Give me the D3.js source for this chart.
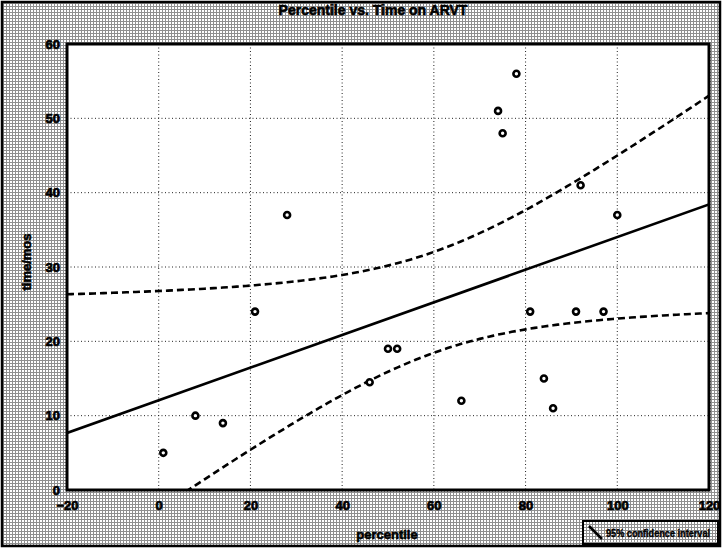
<!DOCTYPE html>
<html>
<head>
<meta charset="utf-8">
<script src="https://cdn.jsdelivr.net/npm/d3@7"></script>
<style>
  html, body { margin: 0; padding: 0; background: #fff; }
  svg { display: block; }
  text { font-family: "Liberation Sans", Arial, sans-serif; font-weight: bold; fill: #000; }
</style>
</head>
<body>
<svg id="chart" width="722" height="548"></svg>
<script>
// Percentile of each patient and time on ARVT
const percentile = [1, 8, 14, 21, 28, 46, 50, 52, 66, 74, 75, 78, 81, 84, 86, 91, 92, 97, 100];
const timeOnArvt = [5, 10, 9, 24, 37, 14.5, 19, 19, 12, 51, 48, 56, 24, 15, 11, 24, 41, 24, 37];

const xTicks = [-20, 0, 20, 40, 60, 80, 100, 120];
const yTicks = [0, 10, 20, 30, 40, 50, 60];
const xDomain = [-20, 120];
const yDomain = [0, 60];

const titleText = "Percentile vs. Time on ARVT";
const xLabel = "percentile";
const yLabel = "time/mos";
const legendText = "95% confidence interval";

// two-sided 95% Student t quantile for n - 2 = 17 degrees of freedom
const T_975 = 2.1098;

const W = 722, H = 548;
const plot = { left: 67, right: 709, top: 44, bottom: 490 };

const svg = d3.select("#chart");
const defs = svg.append("defs");

// halftone-like grey mesh used for the figure background
const pat = defs.append("pattern")
  .attr("id", "mesh").attr("width", 3).attr("height", 3)
  .attr("patternUnits", "userSpaceOnUse");
pat.append("rect").attr("width", 3).attr("height", 3).attr("fill", "#fff");
pat.append("rect").attr("width", 3).attr("height", 1).attr("fill", "#8f8f8f");
pat.append("rect").attr("width", 1).attr("height", 3).attr("fill", "#8f8f8f");

defs.append("clipPath").attr("id", "plotClip")
  .append("rect")
  .attr("x", plot.left).attr("y", plot.top)
  .attr("width", plot.right - plot.left).attr("height", plot.bottom - plot.top);

// figure background and frame
svg.append("rect").attr("x", 2).attr("y", 2).attr("width", W - 4).attr("height", H - 4)
  .attr("fill", "url(#mesh)").attr("stroke", "#000").attr("stroke-width", 2.5);

const x = d3.scaleLinear().domain(xDomain).range([plot.left, plot.right]);
const y = d3.scaleLinear().domain(yDomain).range([plot.bottom, plot.top]);

// plot area
svg.append("rect")
  .attr("x", plot.left).attr("y", plot.top)
  .attr("width", plot.right - plot.left).attr("height", plot.bottom - plot.top)
  .attr("fill", "#fff");

// dotted grid
const grid = svg.append("g").attr("stroke", "#222").attr("stroke-width", 1)
  .attr("stroke-dasharray", "1,2.5");
grid.selectAll("line.v").data(xTicks.slice(1, -1)).join("line")
  .attr("class", "v")
  .attr("x1", d => x(d)).attr("x2", d => x(d))
  .attr("y1", plot.top).attr("y2", plot.bottom);
grid.selectAll("line.h").data(yTicks.slice(1, -1)).join("line")
  .attr("class", "h")
  .attr("x1", plot.left).attr("x2", plot.right)
  .attr("y1", d => y(d)).attr("y2", d => y(d));

// least-squares fit and 95% confidence band of the mean
const n = percentile.length;
const mx = d3.mean(percentile), my = d3.mean(timeOnArvt);
let sxx = 0, sxy = 0;
for (let i = 0; i < n; i++) {
  sxx += (percentile[i] - mx) ** 2;
  sxy += (percentile[i] - mx) * (timeOnArvt[i] - my);
}
const slope = sxy / sxx;
const intercept = my - slope * mx;
let sse = 0;
for (let i = 0; i < n; i++) {
  sse += (timeOnArvt[i] - (intercept + slope * percentile[i])) ** 2;
}
const s = Math.sqrt(sse / (n - 2));
const fit = v => intercept + slope * v;
const half = v => T_975 * s * Math.sqrt(1 / n + (v - mx) ** 2 / sxx);

const xs = d3.range(xDomain[0], xDomain[1] + 0.5, 1);
const line = d3.line().x(d => x(d[0])).y(d => y(d[1]));

const curves = svg.append("g").attr("clip-path", "url(#plotClip)")
  .attr("fill", "none").attr("stroke", "#000");

curves.append("path")
  .attr("d", line([[xDomain[0], fit(xDomain[0])], [xDomain[1], fit(xDomain[1])]]))
  .attr("stroke-width", 2.6);

curves.append("path")
  .attr("d", line(xs.map(v => [v, fit(v) + half(v)])))
  .attr("stroke-width", 2.6).attr("stroke-dasharray", "7,4");
curves.append("path")
  .attr("d", line(xs.map(v => [v, fit(v) - half(v)])))
  .attr("stroke-width", 2.6).attr("stroke-dasharray", "7,4");

// observations
svg.append("g").selectAll("circle")
  .data(percentile.map((p, i) => [p, timeOnArvt[i]]))
  .join("circle")
  .attr("cx", d => x(d[0])).attr("cy", d => y(d[1]))
  .attr("r", 3)
  .attr("fill", "#fff").attr("stroke", "#000").attr("stroke-width", 2.6);

// axes
const xAxis = svg.append("g").attr("transform", `translate(0,${plot.bottom})`)
  .call(d3.axisBottom(x).tickValues(xTicks).tickSize(0).tickPadding(11).tickFormat(d3.format("d")));
const yAxis = svg.append("g").attr("transform", `translate(${plot.left},0)`)
  .call(d3.axisLeft(y).tickValues(yTicks).tickSize(0).tickPadding(7).tickFormat(d3.format("d")));
[xAxis, yAxis].forEach(a => {
  a.select(".domain").remove();
  a.selectAll("text").style("font-size", "13px").style("font-weight", "bold")
    .attr("stroke", "#000").attr("stroke-width", 0.7);
});

// plot frame
svg.append("rect")
  .attr("x", plot.left).attr("y", plot.top)
  .attr("width", plot.right - plot.left).attr("height", plot.bottom - plot.top)
  .attr("fill", "none").attr("stroke", "#000").attr("stroke-width", 3);

// title and axis labels
svg.append("text").attr("x", 373).attr("y", 15).attr("text-anchor", "middle")
  .style("font-size", "14px").attr("stroke", "#000").attr("stroke-width", 0.6)
  .text(titleText);
svg.append("text").attr("x", 387).attr("y", 539).attr("text-anchor", "middle")
  .style("font-size", "13px").attr("stroke", "#000").attr("stroke-width", 0.6)
  .text(xLabel);
svg.append("text")
  .attr("transform", "translate(31,262) rotate(-90)")
  .attr("text-anchor", "middle")
  .style("font-size", "13px").attr("stroke", "#000").attr("stroke-width", 0.6)
  .text(yLabel);

// legend
const lg = svg.append("g").attr("transform", "translate(583,521)");
lg.append("rect").attr("width", 135).attr("height", 23)
  .attr("fill", "url(#mesh)").attr("stroke", "#000").attr("stroke-width", 2);
lg.append("line").attr("x1", 6).attr("y1", 5).attr("x2", 19).attr("y2", 18)
  .attr("stroke", "#000").attr("stroke-width", 2.6);
lg.append("text").attr("x", 23).attr("y", 15.5)
  .attr("textLength", 104).attr("lengthAdjust", "spacingAndGlyphs")
  .style("font-size", "10px").attr("stroke", "#000").attr("stroke-width", 0.35)
  .text(legendText);
</script>
</body>
</html>
